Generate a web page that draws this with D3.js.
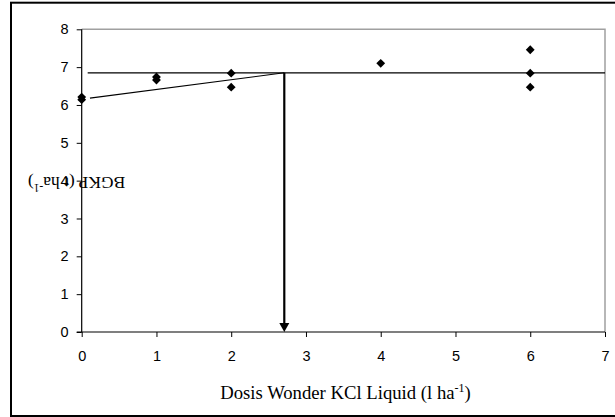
<!DOCTYPE html>
<html>
<head>
<meta charset="utf-8">
<script src="https://cdn.jsdelivr.net/npm/d3@7"></script>
<style>
  html, body { margin: 0; padding: 0; background: #fff; }
  svg { display: block; }
</style>
</head>
<body>
<svg id="chart" width="615" height="417"></svg>
<script>
// Observed yields per dose of Wonder KCl Liquid
const doses  = [0, 0, 1, 1, 2, 2, 4, 6, 6, 6];
const yields = [6.21, 6.14, 6.74, 6.66, 6.84, 6.47, 7.10, 7.46, 6.84, 6.47];

// Linear-plateau fit: rising segment, plateau, and the optimum dose
const slopeX   = [0.11, 2.71];
const slopeY   = [6.18, 6.85];
const plateauX = [0.08, 7];
const plateauY = [6.85, 6.85];
const optimumDose = 2.71;

const xTicks = [0, 1, 2, 3, 4, 5, 6, 7];
const yTicks = [0, 1, 2, 3, 4, 5, 6, 7, 8];

const svg = d3.select("#chart");
const plot = { left: 81.7, right: 605, top: 29.3, bottom: 332 };

const x = d3.scaleLinear().domain([0, 7]).range([plot.left, plot.right]);
const y = d3.scaleLinear().domain([0, 8]).range([plot.bottom, plot.top]);

// Outer chart frame
svg.append("rect")
  .attr("x", 11).attr("y", 2.7)
  .attr("width", 700).attr("height", 413.3)
  .attr("fill", "none").attr("stroke", "#000").attr("stroke-width", 2);

// Plot area border (top and right)
svg.append("path")
  .attr("d", `M${plot.left},${plot.top}H${plot.right}V${plot.bottom}`)
  .attr("fill", "none").attr("stroke", "#a0a0a0").attr("stroke-width", 1.5);

const tickFont = "'Liberation Sans', Arial, sans-serif";

// Y axis
const yAxis = svg.append("g")
  .attr("transform", `translate(${plot.left},0)`)
  .call(d3.axisLeft(y).tickValues(yTicks).tickFormat(d3.format("d")).tickSize(5).tickPadding(8));
yAxis.select(".domain").attr("d", `M-5,${plot.bottom}H0V${plot.top}`).attr("stroke", "#000").attr("stroke-width", 1.2);
yAxis.selectAll(".tick line").attr("stroke", "#000");
yAxis.selectAll("text").attr("font-family", tickFont).attr("font-size", 14.5).attr("fill", "#000");

// X axis
const xAxis = svg.append("g")
  .attr("transform", `translate(0,${plot.bottom})`)
  .call(d3.axisBottom(x).tickValues(xTicks).tickFormat(d3.format("d")).tickSize(5).tickPadding(14));
xAxis.select(".domain").attr("d", `M${plot.left},0H${plot.right}`).attr("stroke", "#000").attr("stroke-width", 1.2);
xAxis.selectAll(".tick line").attr("stroke", "#000");
xAxis.selectAll("text").attr("font-family", tickFont).attr("font-size", 14.5).attr("fill", "#000");

// Fitted lines
const line = d3.line().x(d => x(d[0])).y(d => y(d[1]));
svg.append("path")
  .attr("d", line(d3.zip(plateauX, plateauY)))
  .attr("fill", "none").attr("stroke", "#000").attr("stroke-width", 1.3);
svg.append("path")
  .attr("d", line(d3.zip(slopeX, slopeY)))
  .attr("fill", "none").attr("stroke", "#000").attr("stroke-width", 1.1);

// Arrow down from the plateau to the optimum dose
const ax = x(optimumDose);
svg.append("line")
  .attr("x1", ax).attr("x2", ax)
  .attr("y1", y(plateauY[0])).attr("y2", y(0) - 7)
  .attr("stroke", "#000").attr("stroke-width", 2.2);
svg.append("path")
  .attr("d", `M${ax - 5},${y(0) - 9}L${ax + 5},${y(0) - 9}L${ax},${y(0)}Z`)
  .attr("fill", "#000");

// Observed points as diamonds
const r = 4.4;
svg.append("g").selectAll("path")
  .data(d3.zip(doses, yields))
  .join("path")
  .attr("transform", d => `translate(${x(d[0])},${y(d[1])})`)
  .attr("d", `M0,${-r}L${r},0L0,${r}L${-r},0Z`)
  .attr("fill", "#000");

const titleFont = "'Liberation Serif', 'Times New Roman', serif";

// X axis title
const xt = svg.append("text")
  .attr("x", 345.5).attr("y", 399)
  .attr("text-anchor", "middle")
  .attr("font-family", titleFont).attr("font-size", 18.7).attr("fill", "#000");
xt.append("tspan").text("Dosis Wonder KCl Liquid (l ha");
xt.append("tspan").attr("font-size", 12).attr("dy", -7.5).text("-1");
xt.append("tspan").attr("dy", 7.5).text(")");

// Y axis title (drawn upside down)
const yt = svg.append("text")
  .attr("transform", "translate(76.5,176.7) rotate(180)")
  .attr("text-anchor", "middle")
  .attr("font-family", titleFont).attr("font-size", 17.5).attr("fill", "#000");
yt.append("tspan").text("BGKP (t ha");
yt.append("tspan").attr("font-size", 11.5).attr("dy", -7).text("-1");
yt.append("tspan").attr("dy", 7).text(")");
</script>
</body>
</html>
